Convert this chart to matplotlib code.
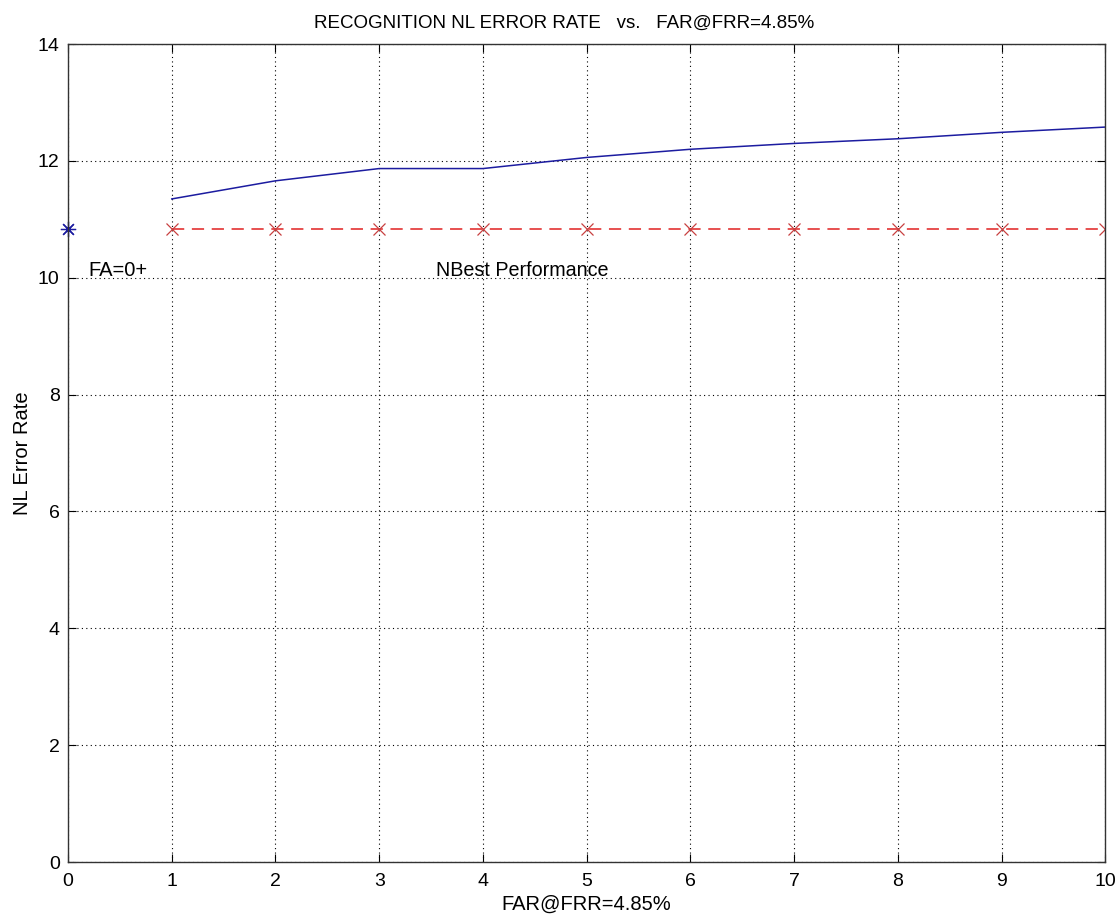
import numpy as np
import matplotlib
matplotlib.use('Agg')
import matplotlib.pyplot as plt

plt.rcParams['font.family'] = ['Liberation Sans', 'DejaVu Sans']

# NL error rate for each FAR setting
far = [1, 2, 3, 4, 5, 6, 7, 8, 9, 10]
nl_err = [11.35, 11.66, 11.87, 11.87, 12.06, 12.20, 12.30, 12.38, 12.49, 12.58]

# NBest performance (flat reference)
nbest = [10.83] * 10

# FA=0+ point
fa0_x = [0]
fa0_y = [10.83]

fig = plt.figure(figsize=(11.19, 9.19), dpi=100)
ax = fig.add_axes([0.0608, 0.062, 0.927, 0.890])

ax.plot(far, nl_err, color='#1c1ca0', lw=1.1)
ax.plot(far, nbest, 'x--', color='#e02020', lw=1.1, markersize=9,
        markeredgecolor='#c84040', markeredgewidth=0.9, dashes=(8, 5))
ax.plot(fa0_x, fa0_y, linestyle='none', marker=(8, 2, 0), color='#1c1ca0',
        markersize=11, markeredgewidth=0.9, clip_on=False)

ax.text(0.2, 10.12, 'FA=0+', fontsize=14.5, va='center', ha='left')
ax.text(3.55, 10.12, 'NBest Performance', fontsize=14.2, va='center', ha='left')

ax.set_xlim(0, 10)
ax.set_ylim(0, 14)
ax.set_xticks(range(0, 11))
ax.set_yticks(range(0, 15, 2))
ax.grid(True, linestyle=(0, (1, 3)), color='black', lw=0.8)
ax.tick_params(direction='in', top=True, right=True, labelsize=14, length=6)
ax.tick_params(axis='x', pad=8)
ax.tick_params(axis='y', pad=6)
for s in ax.spines.values():
    s.set_linewidth(1.0)
    s.set_color('#333333')

ax.set_xlabel('FAR@FRR=4.85%', fontsize=14.5, labelpad=3)
ax.set_ylabel('NL Error Rate', fontsize=14.5, labelpad=4)
ax.set_title('RECOGNITION NL ERROR RATE   vs.   FAR@FRR=4.85%', fontsize=13.5,
             pad=12, x=0.478)

fig.savefig('out.png', dpi=100)
